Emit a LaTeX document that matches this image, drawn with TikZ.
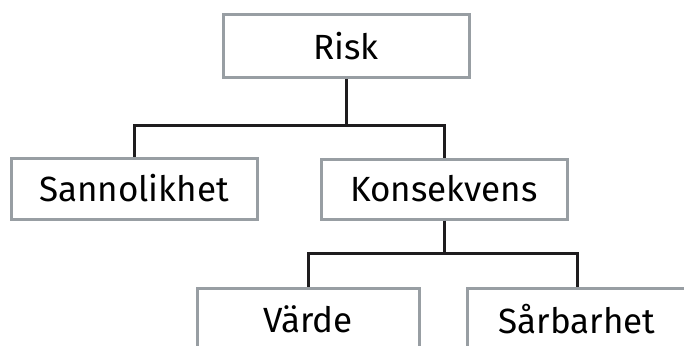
\documentclass[tikz,border=0pt]{standalone}
\usepackage{fontspec}
\setmainfont{Fira Sans}
\usepackage{tikz}

\definecolor{boxgray}{RGB}{152,158,163}
\definecolor{linjesvart}{RGB}{30,28,30}

\tikzset{
  ruta/.style={draw=boxgray, line width=3pt, rectangle, inner sep=0pt,
    minimum height=62pt, font=\fontsize{35}{40}\selectfont},
  gren/.style={draw=linjesvart, line width=3pt}
}

\begin{document}
\begin{tikzpicture}[x=1pt, y=-1pt]
    % Ramen
    \clip (0,0) rectangle (684,345);
    \fill[white] (0,0) rectangle (684,345);

    % Rutor
    \node[ruta, minimum width=246pt] (risk) at (346,46) {Risk};
    \node[ruta, minimum width=246pt, minimum height=61pt] (sannolikhet) at (134,188.5) {Sannolikhet};
    \node[ruta, minimum width=246pt, minimum height=60pt] (konsekvens) at (444,189) {Konsekvens};
    \node[ruta, minimum width=222pt] (varde) at (308,319) {Värde};
    \node[ruta, minimum width=220pt] (sarbarhet) at (577,319) {Sårbarhet};

    % Grenpunkter
    \coordinate (g1) at (346,125);
    \coordinate (g2) at (444,253);

    % Linjer
    \draw[gren] (risk.south) -- (g1);
    \draw[gren] (sannolikhet.north) |- (g1) -| (konsekvens.north);
    \draw[gren] (konsekvens.south) -- (g2);
    \draw[gren] (varde.north) |- (g2) -| (sarbarhet.north);
\end{tikzpicture}
\end{document}
